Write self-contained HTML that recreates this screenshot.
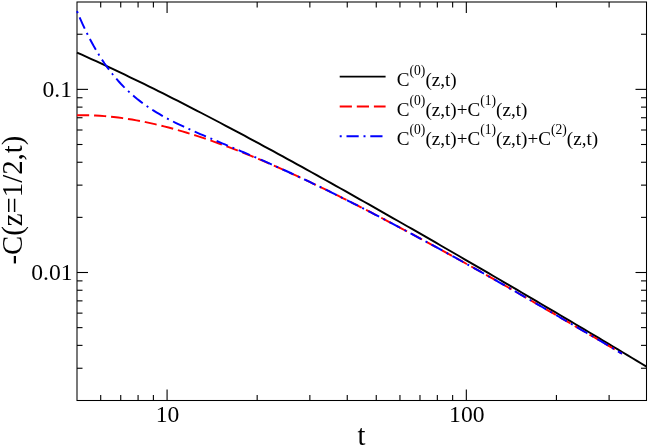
<!DOCTYPE html>
<html><head><meta charset="utf-8"><style>
html,body{margin:0;padding:0;background:#fff;}
svg{display:block;will-change:transform;}
text{font-family:"Liberation Serif",serif;fill:#000;}
</style></head><body>
<svg width="650" height="447" viewBox="0 0 650 447">
<rect x="0" y="0" width="650" height="447" fill="#fff"/>
<rect x="77.0" y="2.0" width="569.5" height="398.5" fill="none" stroke="#000" stroke-width="1.05"/>
<g fill="none" stroke-width="1.95" stroke-linejoin="round">
<path d="M77.00,52.55 L81.79,54.69 L86.57,56.85 L91.36,59.03 L96.14,61.22 L100.93,63.43 L105.71,65.66 L110.50,67.90 L115.29,70.16 L120.07,72.43 L124.86,74.71 L129.64,77.01 L134.43,79.32 L139.21,81.65 L144.00,83.99 L148.79,86.34 L153.57,88.71 L158.36,91.09 L163.14,93.48 L167.93,95.88 L172.71,98.29 L177.50,100.72 L182.29,103.15 L187.07,105.60 L191.86,108.06 L196.64,110.53 L201.43,113.00 L206.21,115.49 L211.00,117.99 L215.79,120.49 L220.57,123.01 L225.36,125.53 L230.14,128.07 L234.93,130.61 L239.71,133.16 L244.50,135.72 L249.29,138.28 L254.07,140.85 L258.86,143.44 L263.64,146.02 L268.43,148.62 L273.21,151.22 L278.00,153.83 L282.79,156.44 L287.57,159.07 L292.36,161.69 L297.14,164.33 L301.93,166.97 L306.71,169.61 L311.50,172.26 L316.29,174.92 L321.07,177.58 L325.86,180.25 L330.64,182.92 L335.43,185.59 L340.21,188.27 L345.00,190.96 L349.79,193.65 L354.57,196.34 L359.36,199.04 L364.14,201.74 L368.93,204.45 L373.71,207.16 L378.50,209.88 L383.29,212.59 L388.07,215.32 L392.86,218.04 L397.64,220.77 L402.43,223.50 L407.21,226.24 L412.00,228.97 L416.79,231.72 L421.57,234.46 L426.36,237.21 L431.14,239.96 L435.93,242.71 L440.71,245.47 L445.50,248.23 L450.29,250.99 L455.07,253.75 L459.86,256.52 L464.64,259.29 L469.43,262.06 L474.21,264.84 L479.00,267.62 L483.79,270.40 L488.57,273.18 L493.36,275.97 L498.14,278.76 L502.93,281.55 L507.71,284.34 L512.50,287.14 L517.29,289.94 L522.07,292.74 L526.86,295.54 L531.64,298.35 L536.43,301.16 L541.21,303.97 L546.00,306.79 L550.79,309.60 L555.57,312.42 L560.36,315.25 L565.14,318.07 L569.93,320.90 L574.71,323.74 L579.50,326.57 L584.29,329.41 L589.07,332.26 L593.86,335.10 L598.64,337.95 L603.43,340.80 L608.21,343.66 L613.00,346.52 L617.79,349.38 L622.57,352.25 L627.36,355.13 L632.14,358.00 L636.93,360.88 L641.71,363.77 L646.50,366.66" stroke="#000"/>
<path d="M77.00,115.25 L81.58,115.20 L86.16,115.22 L90.74,115.33 L95.32,115.51 L99.90,115.77 L104.48,116.11 L109.06,116.52 L113.64,117.00 L118.22,117.54 L122.80,118.15 L127.38,118.83 L131.96,119.57 L136.54,120.37 L141.12,121.23 L145.70,122.15 L150.28,123.13 L154.86,124.16 L159.44,125.24 L164.02,126.37 L168.60,127.56 L173.18,128.79 L177.76,130.07 L182.34,131.39 L186.92,132.76 L191.50,134.18 L196.08,135.63 L200.66,137.13 L205.24,138.66 L209.82,140.23 L214.39,141.84 L218.97,143.48 L223.55,145.16 L228.13,146.88 L232.71,148.62 L237.29,150.40 L241.87,152.21 L246.45,154.04 L251.03,155.91 L255.61,157.80 L260.19,159.72 L264.77,161.67 L269.35,163.64 L273.93,165.64 L278.51,167.65 L283.09,169.70 L287.67,171.76 L292.25,173.85 L296.83,175.95 L301.41,178.08 L305.99,180.23 L310.57,182.39 L315.15,184.57 L319.73,186.77 L324.31,188.99 L328.89,191.23 L333.47,193.48 L338.05,195.74 L342.63,198.02 L347.21,200.31 L351.79,202.62 L356.37,204.94 L360.95,207.28 L365.53,209.63 L370.11,211.99 L374.69,214.36 L379.27,216.74 L383.85,219.13 L388.43,221.54 L393.01,223.95 L397.59,226.38 L402.17,228.81 L406.75,231.25 L411.33,233.71 L415.91,236.17 L420.49,238.64 L425.07,241.12 L429.65,243.60 L434.23,246.10 L438.81,248.60 L443.39,251.11 L447.97,253.63 L452.55,256.15 L457.13,258.68 L461.71,261.22 L466.29,263.76 L470.87,266.31 L475.45,268.87 L480.03,271.43 L484.61,274.01 L489.18,276.60 L493.76,279.19 L498.34,281.79 L502.92,284.40 L507.50,287.02 L512.08,289.64 L516.66,292.27 L521.24,294.90 L525.82,297.54 L530.40,300.18 L534.98,302.83 L539.56,305.48 L544.14,308.14 L548.72,310.80 L553.30,313.46 L557.88,316.13 L562.46,318.79 L567.04,321.46 L571.62,324.13 L576.20,326.80 L580.78,329.47 L585.36,332.14 L589.94,334.82 L594.52,337.51 L599.10,340.19 L603.68,342.89 L608.26,345.58 L612.84,348.28 L617.42,350.99 L622.00,353.70" stroke="#f00" stroke-dasharray="12.16 4.9"/>
<path d="M77.00,11.19 L79.74,17.66 L82.48,23.82 L85.22,29.67 L87.95,35.23 L90.69,40.52 L93.43,45.54 L96.17,50.30 L98.91,54.83 L101.65,59.12 L104.39,63.20 L107.13,67.08 L109.86,70.76 L112.60,74.25 L115.34,77.57 L118.08,80.73 L120.82,83.73 L123.56,86.59 L126.30,89.31 L129.04,91.90 L131.77,94.37 L134.51,96.72 L137.25,98.98 L139.99,101.13 L142.73,103.19 L145.47,105.16 L148.21,107.06 L150.94,108.88 L153.68,110.64 L156.42,112.33 L159.16,113.96 L161.90,115.54 L164.64,117.07 L167.38,118.55 L170.12,119.99 L172.85,121.40 L175.59,122.77 L178.33,124.11 L181.07,125.42 L183.81,126.71 L186.55,127.98 L189.29,129.22 L192.03,130.45 L194.76,131.66 L197.50,132.86 L200.24,134.04 L202.98,135.22 L205.72,136.39 L208.46,137.55 L211.20,138.70 L213.93,139.85 L216.67,141.00 L219.41,142.14 L222.15,143.29 L224.89,144.43 L227.63,145.57 L230.37,146.72 L233.11,147.86 L235.84,149.01 L238.58,150.16 L241.32,151.32 L244.06,152.48 L246.80,153.64 L249.54,154.81 L252.28,155.98 L255.02,157.16 L257.75,158.34 L260.49,159.53 L263.23,160.73 L265.97,161.93 L268.71,163.13 L271.45,164.34 L274.19,165.56 L276.92,166.79 L279.66,168.02 L282.40,169.26 L285.14,170.50 L287.88,171.75 L290.62,173.01 L293.36,174.27 L296.10,175.54 L298.83,176.82 L301.57,178.10 L304.31,179.39 L307.05,180.68 L309.79,181.98 L312.53,183.29 L315.27,184.60 L318.01,185.91 L320.74,187.24 L323.48,188.57 L326.22,189.90 L328.96,191.24 L331.70,192.59 L334.44,193.94 L337.18,195.29 L339.91,196.66 L342.65,198.02 L345.39,199.39 L348.13,200.77 L350.87,202.15 L353.61,203.54 L356.35,204.93 L359.09,206.32 L361.82,207.72 L364.56,209.13 L367.30,210.53 L370.04,211.95 L372.78,213.36 L375.52,214.78 L378.26,216.21 L380.99,217.64 L383.73,219.07 L386.47,220.51 L389.21,221.95 L391.95,223.39 L394.69,224.84 L397.43,226.29 L400.17,227.74 L402.90,229.20 L405.64,230.66 L408.38,232.13 L411.12,233.60 L413.86,235.07 L416.60,236.54 L419.34,238.02 L422.08,239.50 L424.81,240.98 L427.55,242.47 L430.29,243.95 L433.03,245.45 L435.77,246.94 L438.51,248.44 L441.25,249.94 L443.98,251.44 L446.72,252.94 L449.46,254.45 L452.20,255.96 L454.94,257.47 L457.68,258.98 L460.42,260.50 L463.16,262.02 L465.89,263.54 L468.63,265.06 L471.37,266.59 L474.11,268.12 L476.85,269.65 L479.59,271.19 L482.33,272.73 L485.07,274.27 L487.80,275.82 L490.54,277.36 L493.28,278.92 L496.02,280.47 L498.76,282.03 L501.50,283.59 L504.24,285.15 L506.97,286.71 L509.71,288.28 L512.45,289.85 L515.19,291.42 L517.93,292.99 L520.67,294.57 L523.41,296.15 L526.15,297.73 L528.88,299.31 L531.62,300.89 L534.36,302.47 L537.10,304.06 L539.84,305.64 L542.58,307.23 L545.32,308.82 L548.06,310.41 L550.79,312.00 L553.53,313.60 L556.27,315.19 L559.01,316.78 L561.75,318.38 L564.49,319.97 L567.23,321.57 L569.96,323.16 L572.70,324.76 L575.44,326.36 L578.18,327.95 L580.92,329.55 L583.66,331.15 L586.40,332.75 L589.14,334.35 L591.87,335.95 L594.61,337.56 L597.35,339.17 L600.09,340.78 L602.83,342.39 L605.57,344.00 L608.31,345.61 L611.05,347.22 L613.78,348.84 L616.52,350.46 L619.26,352.08 L622.00,353.70" stroke="#00f" stroke-dasharray="2 4.8 12.27 4.8"/>
</g>
<g stroke="#000" stroke-width="1.1">
<line x1="100.70" y1="400.50" x2="100.70" y2="395.00"/>
<line x1="100.70" y1="2.00" x2="100.70" y2="7.50"/>
<line x1="120.73" y1="400.50" x2="120.73" y2="395.00"/>
<line x1="120.73" y1="2.00" x2="120.73" y2="7.50"/>
<line x1="138.08" y1="400.50" x2="138.08" y2="395.00"/>
<line x1="138.08" y1="2.00" x2="138.08" y2="7.50"/>
<line x1="153.39" y1="400.50" x2="153.39" y2="395.00"/>
<line x1="153.39" y1="2.00" x2="153.39" y2="7.50"/>
<line x1="167.08" y1="400.50" x2="167.08" y2="389.50"/>
<line x1="167.08" y1="2.00" x2="167.08" y2="13.00"/>
<line x1="257.17" y1="400.50" x2="257.17" y2="395.00"/>
<line x1="257.17" y1="2.00" x2="257.17" y2="7.50"/>
<line x1="309.86" y1="400.50" x2="309.86" y2="395.00"/>
<line x1="309.86" y1="2.00" x2="309.86" y2="7.50"/>
<line x1="347.25" y1="400.50" x2="347.25" y2="395.00"/>
<line x1="347.25" y1="2.00" x2="347.25" y2="7.50"/>
<line x1="376.25" y1="400.50" x2="376.25" y2="395.00"/>
<line x1="376.25" y1="2.00" x2="376.25" y2="7.50"/>
<line x1="399.95" y1="400.50" x2="399.95" y2="395.00"/>
<line x1="399.95" y1="2.00" x2="399.95" y2="7.50"/>
<line x1="419.98" y1="400.50" x2="419.98" y2="395.00"/>
<line x1="419.98" y1="2.00" x2="419.98" y2="7.50"/>
<line x1="437.33" y1="400.50" x2="437.33" y2="395.00"/>
<line x1="437.33" y1="2.00" x2="437.33" y2="7.50"/>
<line x1="452.64" y1="400.50" x2="452.64" y2="395.00"/>
<line x1="452.64" y1="2.00" x2="452.64" y2="7.50"/>
<line x1="466.33" y1="400.50" x2="466.33" y2="389.50"/>
<line x1="466.33" y1="2.00" x2="466.33" y2="13.00"/>
<line x1="556.42" y1="400.50" x2="556.42" y2="395.00"/>
<line x1="556.42" y1="2.00" x2="556.42" y2="7.50"/>
<line x1="609.11" y1="400.50" x2="609.11" y2="395.00"/>
<line x1="609.11" y1="2.00" x2="609.11" y2="7.50"/>
<line x1="77.00" y1="368.25" x2="82.50" y2="368.25"/>
<line x1="646.50" y1="368.25" x2="641.00" y2="368.25"/>
<line x1="77.00" y1="345.37" x2="82.50" y2="345.37"/>
<line x1="646.50" y1="345.37" x2="641.00" y2="345.37"/>
<line x1="77.00" y1="327.63" x2="82.50" y2="327.63"/>
<line x1="646.50" y1="327.63" x2="641.00" y2="327.63"/>
<line x1="77.00" y1="313.13" x2="82.50" y2="313.13"/>
<line x1="646.50" y1="313.13" x2="641.00" y2="313.13"/>
<line x1="77.00" y1="300.87" x2="82.50" y2="300.87"/>
<line x1="646.50" y1="300.87" x2="641.00" y2="300.87"/>
<line x1="77.00" y1="290.25" x2="82.50" y2="290.25"/>
<line x1="646.50" y1="290.25" x2="641.00" y2="290.25"/>
<line x1="77.00" y1="280.88" x2="82.50" y2="280.88"/>
<line x1="646.50" y1="280.88" x2="641.00" y2="280.88"/>
<line x1="77.00" y1="272.50" x2="88.00" y2="272.50"/>
<line x1="646.50" y1="272.50" x2="635.50" y2="272.50"/>
<line x1="77.00" y1="217.37" x2="82.50" y2="217.37"/>
<line x1="646.50" y1="217.37" x2="641.00" y2="217.37"/>
<line x1="77.00" y1="185.13" x2="82.50" y2="185.13"/>
<line x1="646.50" y1="185.13" x2="641.00" y2="185.13"/>
<line x1="77.00" y1="162.25" x2="82.50" y2="162.25"/>
<line x1="646.50" y1="162.25" x2="641.00" y2="162.25"/>
<line x1="77.00" y1="144.50" x2="82.50" y2="144.50"/>
<line x1="646.50" y1="144.50" x2="641.00" y2="144.50"/>
<line x1="77.00" y1="130.00" x2="82.50" y2="130.00"/>
<line x1="646.50" y1="130.00" x2="641.00" y2="130.00"/>
<line x1="77.00" y1="117.74" x2="82.50" y2="117.74"/>
<line x1="646.50" y1="117.74" x2="641.00" y2="117.74"/>
<line x1="77.00" y1="107.12" x2="82.50" y2="107.12"/>
<line x1="646.50" y1="107.12" x2="641.00" y2="107.12"/>
<line x1="77.00" y1="97.75" x2="82.50" y2="97.75"/>
<line x1="646.50" y1="97.75" x2="641.00" y2="97.75"/>
<line x1="77.00" y1="89.37" x2="88.00" y2="89.37"/>
<line x1="646.50" y1="89.37" x2="635.50" y2="89.37"/>
<line x1="77.00" y1="34.25" x2="82.50" y2="34.25"/>
<line x1="646.50" y1="34.25" x2="641.00" y2="34.25"/>
</g>
<g font-size="23.6px">
<text x="72" y="97.0" text-anchor="end">0.1</text>
<text x="72.5" y="280.1" text-anchor="end">0.01</text>
<text x="167.6" y="422.4" text-anchor="middle">10</text>
<text x="466.8" y="422.4" text-anchor="middle">100</text>
</g>
<text x="361.5" y="445" font-size="28.5px" text-anchor="middle">t</text>
<text transform="translate(21.9,200.1) rotate(-90)" font-size="28.8px" text-anchor="middle">-C(z=1/2,t)</text>
<g fill="none" stroke-width="1.95">
<line x1="339.7" y1="76.6" x2="385.6" y2="76.6" stroke="#000"/>
<line x1="339.7" y1="106.4" x2="385.6" y2="106.4" stroke="#f00" stroke-dasharray="12.2 4.9"/>
<line x1="339.7" y1="136.2" x2="385.6" y2="136.2" stroke="#00f" stroke-dasharray="2 4.8 12.2 4.8"/>
</g>
<g font-size="19.12px">
<text x="396.8" y="86.0">C<tspan dy="-11.0" font-size="13.6px">(0)</tspan><tspan dy="11.0">(z,t)</tspan></text>
<text x="396.8" y="115.6">C<tspan dy="-11.0" font-size="13.6px">(0)</tspan><tspan dy="11.0">(z,t)+C</tspan><tspan dy="-11.0" font-size="13.6px">(1)</tspan><tspan dy="11.0">(z,t)</tspan></text>
<text x="396.8" y="145.1">C<tspan dy="-11.0" font-size="13.6px">(0)</tspan><tspan dy="11.0">(z,t)+C</tspan><tspan dy="-11.0" font-size="13.6px">(1)</tspan><tspan dy="11.0">(z,t)+C</tspan><tspan dy="-11.0" font-size="13.6px">(2)</tspan><tspan dy="11.0">(z,t)</tspan></text>
</g>
</svg>
</body></html>
